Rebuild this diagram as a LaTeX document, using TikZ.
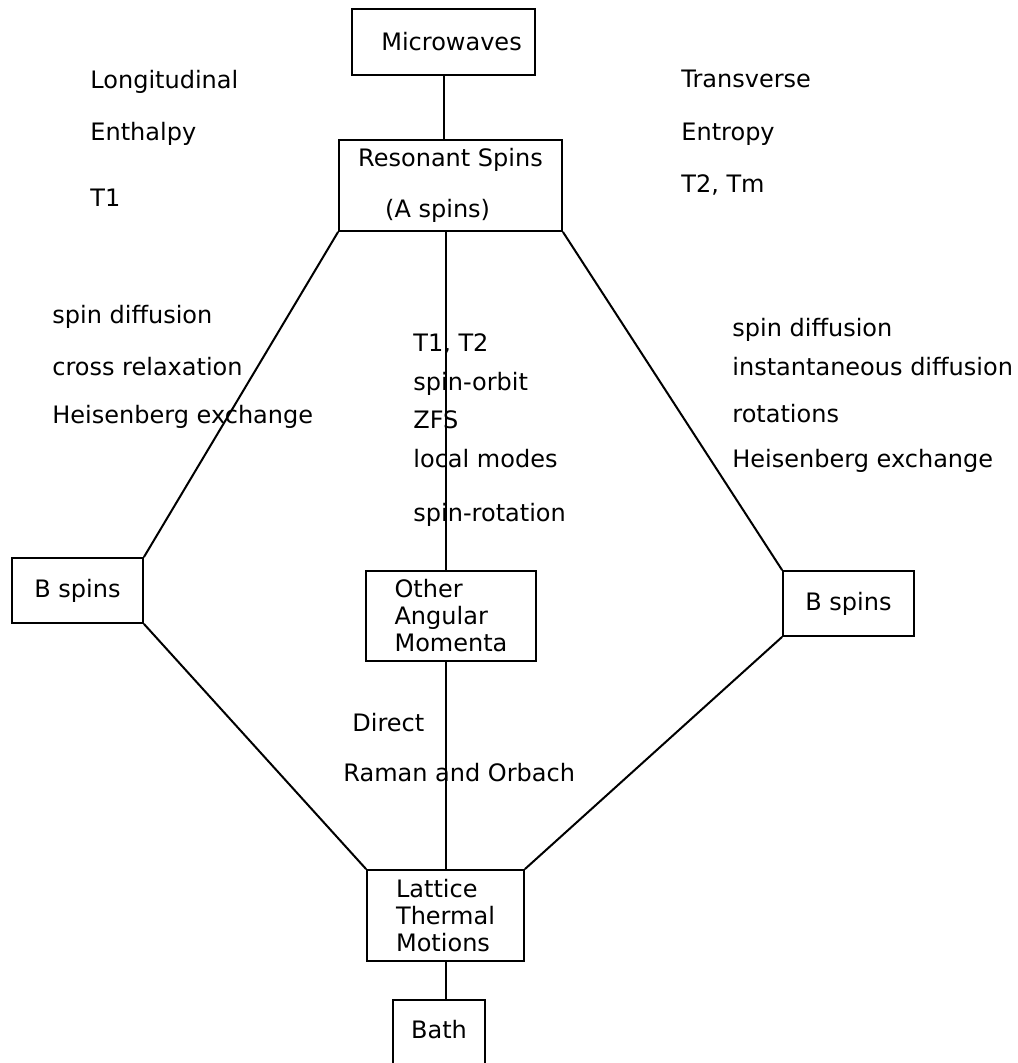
\documentclass[tikz,border=0pt]{standalone}
\usepackage{fontspec}
\setmainfont{DejaVu Sans}
\usetikzlibrary{calc}

\tikzset{
	blk/.style={draw,line width=0.9pt,inner sep=0pt,align=center},
	lbl/.style={anchor=base west,inner sep=0pt},
	lnk/.style={line width=1pt}
}

\begin{document}
\begin{tikzpicture}[x=0.5pt,y=-0.5pt,font=\fontsize{12}{13.5}\selectfont]
				\useasboundingbox (0,0) rectangle (1017,1063);
				\clip (0,0) rectangle (1017,1063);
				\fill[white] (0,0) rectangle (1017,1063);
				\node[blk,minimum width=91.5pt,minimum height=33pt] (mw) at (443.5,42) {\hspace*{8pt}Microwaves};
				\node[blk,align=left,minimum width=111.5pt,minimum height=45.5pt] (res) at (450.5,185.5) {Resonant Spins\\[12pt]\hspace*{13.5pt}(A spins)};
				\node[blk,minimum width=65.5pt,minimum height=32.5pt] (bl) at (77.5,590.5) {B spins};
				\node[blk,align=left,minimum width=85pt,minimum height=45pt] (oam) at (451,616) {Other\\Angular\\Momenta};
				\node[blk,minimum width=65.5pt,minimum height=32.5pt] (br) at (848.5,603.5) {B spins};
				\node[blk,align=left,minimum width=78.5pt,minimum height=45.5pt] (lat) at (445.5,915.5) {Lattice\\Thermal\\Motions};
				\node[blk,minimum width=46pt,text height=19pt,text depth=21pt] (bath) at (439,1040) {Bath};
				\draw[lnk] (mw.south) -- (mw.south |- res.north);
				\draw[lnk] (res.south -| lat) -- (oam.north -| lat);
				\draw[lnk] (oam.south -| lat) -- (lat.north);
				\draw[lnk] (lat.south) -- (lat.south |- bath.north);
				\draw[lnk] (res.south west) -- (bl.north east);
				\draw[lnk] (bl.south east) -- (lat.north west);
				\draw[lnk] (res.south east) -- (br.north west);
				\draw[lnk] (br.south west) -- (lat.north east);
				\node[lbl] (lon) at (90,89) {Longitudinal};
				\node[lbl] (ent) at (90,141) {Enthalpy};
				\node[lbl] (tone) at (90,207) {T1};
				\node[lbl] (tra) at (681,88) {Transverse};
				\node[lbl] (etr) at (681,141) {Entropy};
				\node[lbl] (ttm) at (681,193) {T2, Tm};
				\node[lbl] (lsd) at (52,324) {spin diffusion};
				\node[lbl] (lcr) at (52,376) {cross relaxation};
				\node[lbl] (lhe) at (52,423) {Heisenberg exchange};
				\node[lbl] (mtt) at (413,352) {T1, T2};
				\node[lbl] (mso) at (413,390) {spin-orbit};
				\node[lbl] (mzf) at (413,428) {ZFS};
				\node[lbl] (mlm) at (413,467) {local modes};
				\node[lbl] (msr) at (413,521) {spin-rotation};
				\node[lbl] (rsd) at (732,337) {spin diffusion};
				\node[lbl] (rid) at (732,375) {instantaneous diffusion};
				\node[lbl] (rro) at (732,422) {rotations};
				\node[lbl] (rhe) at (732,467) {Heisenberg exchange};
				\node[lbl] (dir) at (352,731) {Direct};
				\node[lbl] (ram) at (343,781) {Raman and Orbach};
			\end{tikzpicture}
\end{document}
